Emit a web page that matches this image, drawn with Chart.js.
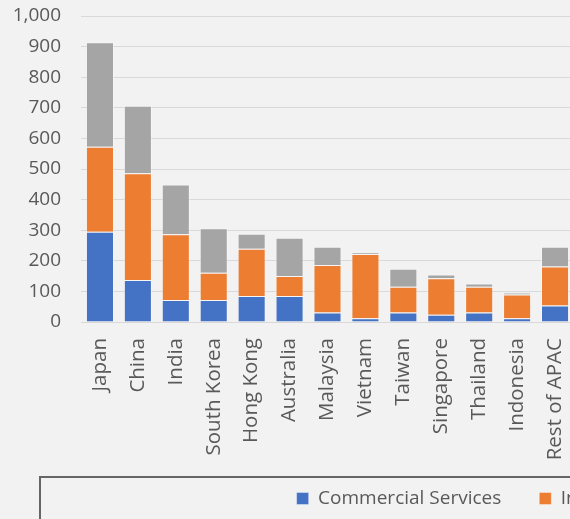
<!DOCTYPE html>
<html>
<head>
<meta charset="utf-8">
<script src="https://cdn.jsdelivr.net/npm/chart.js@4"></script>
<style>
  html, body { margin: 0; padding: 0; background: #f2f2f2; overflow: hidden; }
  #wrap { width: 1098px; height: 540px; }
</style>
</head>
<body>
<div id="wrap"><canvas id="apacChart" width="1098" height="540"></canvas></div>
<script>
const countries = ["Japan", "China", "India", "South Korea", "Hong Kong", "Australia",
  "Malaysia", "Vietnam", "Taiwan", "Singapore", "Thailand", "Indonesia", "Rest of APAC"];
const commercialServices = [295, 137, 72, 72, 85, 85, 31, 12, 31, 24, 31, 12, 54];
const industrial = [278, 349, 215, 89, 154, 65, 155, 210, 84, 119, 84, 78, 127];
const residential = [341, 221, 162, 145, 49, 125, 60, 5, 59, 12, 11, 6, 65];
const yTicks = [0, 100, 200, 300, 400, 500, 600, 700, 800, 900, 1000];

const W = 1098;
const textColor = "#595959";
const family = "'Open Sans', sans-serif";

// frame around the legend, like the boxed legend in the original
const legendFrame = {
  id: "legendFrame",
  afterLayout(chart) {
    // let the long rotated country names run a little past the axis box
    chart.scales.x.bottom += 12;
  },
  afterDraw(chart) {
    const c = chart.ctx;
    c.save();
    c.strokeStyle = "#666666";
    c.lineWidth = 2;
    c.strokeRect(40, 477, 3000, 300);
    c.restore();
  },
};

const ctx = document.getElementById("apacChart");

new Chart(ctx, {
  type: "bar",
  data: {
    labels: countries,
    datasets: [
      {
        label: "Commercial Services",
        data: commercialServices,
        backgroundColor: "#4472c4",
        borderColor: "rgba(255,255,255,0.35)",
        borderWidth: 1,
      },
      {
        label: "Industrial",
        data: industrial,
        backgroundColor: "#ed7d31",
        borderColor: "rgba(255,255,255,0.35)",
        borderWidth: 1,
      },
      {
        label: "Residential",
        data: residential,
        backgroundColor: "#a5a5a5",
        borderColor: "rgba(255,255,255,0.35)",
        borderWidth: 1,
      },
    ],
  },
  options: {
    responsive: false,
    animation: false,
    layout: { padding: { top: 16, left: 0, right: 0, bottom: 22 } },
    datasets: {
      bar: { categoryPercentage: 1, barPercentage: 0.74 },
    },
    plugins: {
      tooltip: { enabled: false },
      legend: {
        position: "bottom",
        labels: {
          boxWidth: 12,
          boxHeight: 12,
          padding: 38,
          color: textColor,
          font: { family: family, size: 19 },
        },
      },
    },
    scales: {
      x: {
        stacked: true,
        grid: { display: false },
        border: { display: false },
        ticks: {
          color: textColor,
          font: { family: family, size: 20.5 },
          minRotation: 90,
          maxRotation: 90,
          autoSkip: false,
          padding: 8,
        },
        afterFit(scale) {
          scale.height = 129;
        },
      },
      y: {
        stacked: true,
        min: 0,
        max: 1000,
        afterBuildTicks(scale) {
          scale.ticks = yTicks.map((v) => ({ value: v }));
        },
        grid: { color: "#d9d9d9", lineWidth: 1, drawTicks: false },
        border: { display: false },
        ticks: {
          color: textColor,
          font: { family: family, size: 19 },
          padding: 20,
          callback: (v) => v.toLocaleString("en-US"),
        },
        afterFit(scale) {
          scale.width = 81;
          // tick padding would otherwise push the plot down from the top
          scale.paddingTop = 0;
          scale.paddingBottom = 0;
        },
      },
      // empty axis on the right, only keeps the plot narrower than the legend row
      spacer: {
        position: "right",
        grid: { display: false },
        border: { display: false },
        ticks: { display: false },
        afterFit(scale) {
          scale.width = W - 574;
        },
      },
    },
  },
  plugins: [legendFrame],
});
</script>
</body>
</html>
